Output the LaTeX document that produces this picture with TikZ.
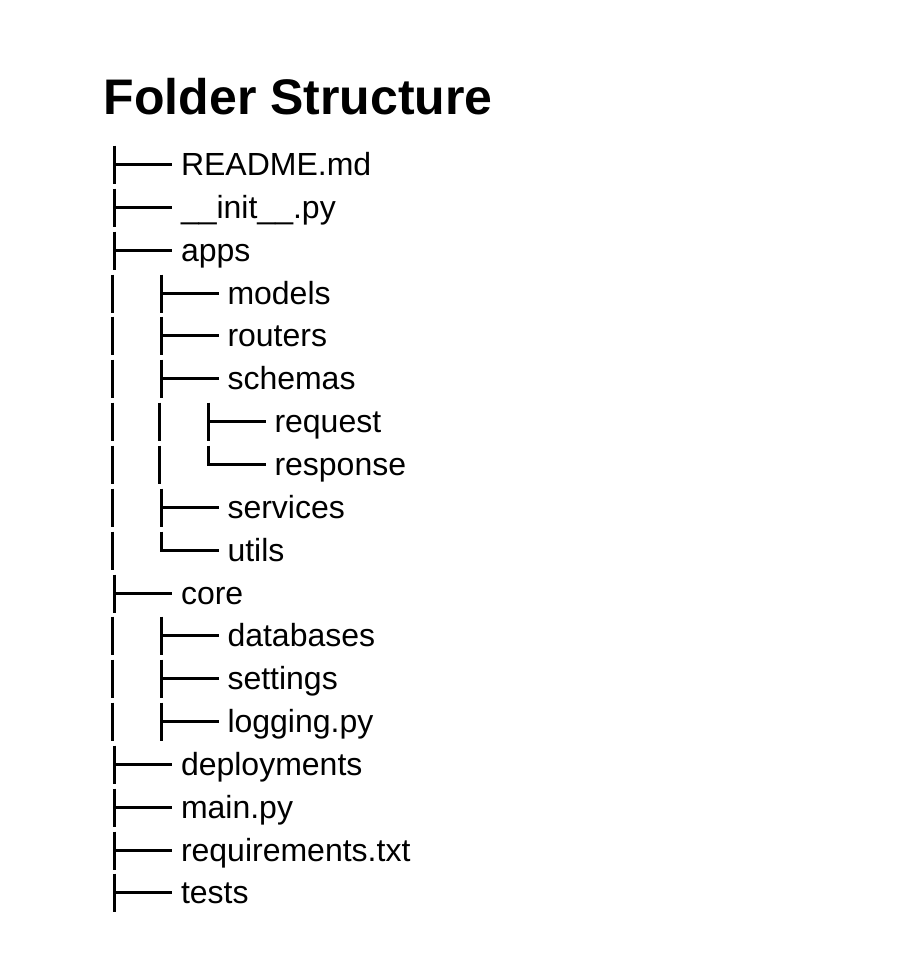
\documentclass[tikz,border=0pt]{standalone}
\usepackage{fontspec}
\setmainfont{Liberation Sans}
\newcommand\rowy[1]{(round(164+42.85*#1)+0.5)}
% tee: vertical segment with horizontal branch
\newcommand\trTee[2]{%
  \draw[treeline] (#1,{\rowy{#2}-19}) -- (#1,{\rowy{#2}+19});
  \draw[treeline] (#1,{\rowy{#2}}) -- ({#1+57.5},{\rowy{#2}});}
% bar: vertical segment only
\newcommand\trBar[2]{%
  \draw[treeline] (#1,{\rowy{#2}-19}) -- (#1,{\rowy{#2}+19});}
% corner: last child
\newcommand\trEnd[2]{%
  \draw[treeline] (#1,{\rowy{#2}-19}) -- (#1,{\rowy{#2}}) -- ({#1+57.5},{\rowy{#2}});}
\begin{document}
\begin{tikzpicture}[x=1pt,y=-1pt,
  treeline/.style={line width=3pt,black},
  item/.style={anchor=base west,inner sep=0pt,outer sep=0pt,font=\fontsize{32}{38}\selectfont},
  titletext/.style={anchor=base west,inner sep=0pt,font=\bfseries\fontsize{50}{60}\selectfont}]
\useasboundingbox (0,0) rectangle (918,958);
\fill[white] (0,0) rectangle (918,958);

\node[titletext] (title) at (103.5,114) {Folder Structure};

\node[item] (n0)  at (181,{\rowy{0}+10.5})  {README.md};
\node[item] (n1)  at (181,{\rowy{1}+10.5})  {\_\_init\_\_.py};
\node[item] (n2)  at (181,{\rowy{2}+10.5})  {apps};
\node[item] (n3)  at (227.5,{\rowy{3}+10.5})    {models};
\node[item] (n4)  at (227.5,{\rowy{4}+10.5})    {routers};
\node[item] (n5)  at (227.5,{\rowy{5}+10.5})    {schemas};
\node[item] (n6)  at (274.5,{\rowy{6}+10.5})  {request};
\node[item] (n7)  at (274.5,{\rowy{7}+10.5})  {response};
\node[item] (n8)  at (227.5,{\rowy{8}+10.5})    {services};
\node[item] (n9)  at (227.5,{\rowy{9}+10.5})    {utils};
\node[item] (n10) at (181,{\rowy{10}+10.5}) {core};
\node[item] (n11) at (227.5,{\rowy{11}+10.5})   {databases};
\node[item] (n12) at (227.5,{\rowy{12}+10.5})   {settings};
\node[item] (n13) at (227.5,{\rowy{13}+10.5})   {logging.py};
\node[item] (n14) at (181,{\rowy{14}+10.5}) {deployments};
\node[item] (n15) at (181,{\rowy{15}+10.5}) {main.py};
\node[item] (n16) at (181,{\rowy{16}+10.5}) {requirements.txt};
\node[item] (n17) at (181,{\rowy{17}+10.5}) {tests};

% tree lines
\trTee{114.5}{0}
\trTee{114.5}{1}
\trTee{114.5}{2}
\trBar{112.5}{3}  \trTee{161.5}{3}
\trBar{112.5}{4}  \trTee{161.5}{4}
\trBar{112.5}{5}  \trTee{161.5}{5}
\trBar{112.5}{6}  \trBar{159.5}{6}  \trTee{208.5}{6}
\trBar{112.5}{7}  \trBar{159.5}{7}  \trEnd{208.5}{7}
\trBar{112.5}{8}  \trTee{161.5}{8}
\trBar{112.5}{9}  \trEnd{161.5}{9}
\trTee{114.5}{10}
\trBar{112.5}{11} \trTee{161.5}{11}
\trBar{112.5}{12} \trTee{161.5}{12}
\trBar{112.5}{13} \trTee{161.5}{13}
\trTee{114.5}{14}
\trTee{114.5}{15}
\trTee{114.5}{16}
\trTee{114.5}{17}
\end{tikzpicture}
\end{document}
